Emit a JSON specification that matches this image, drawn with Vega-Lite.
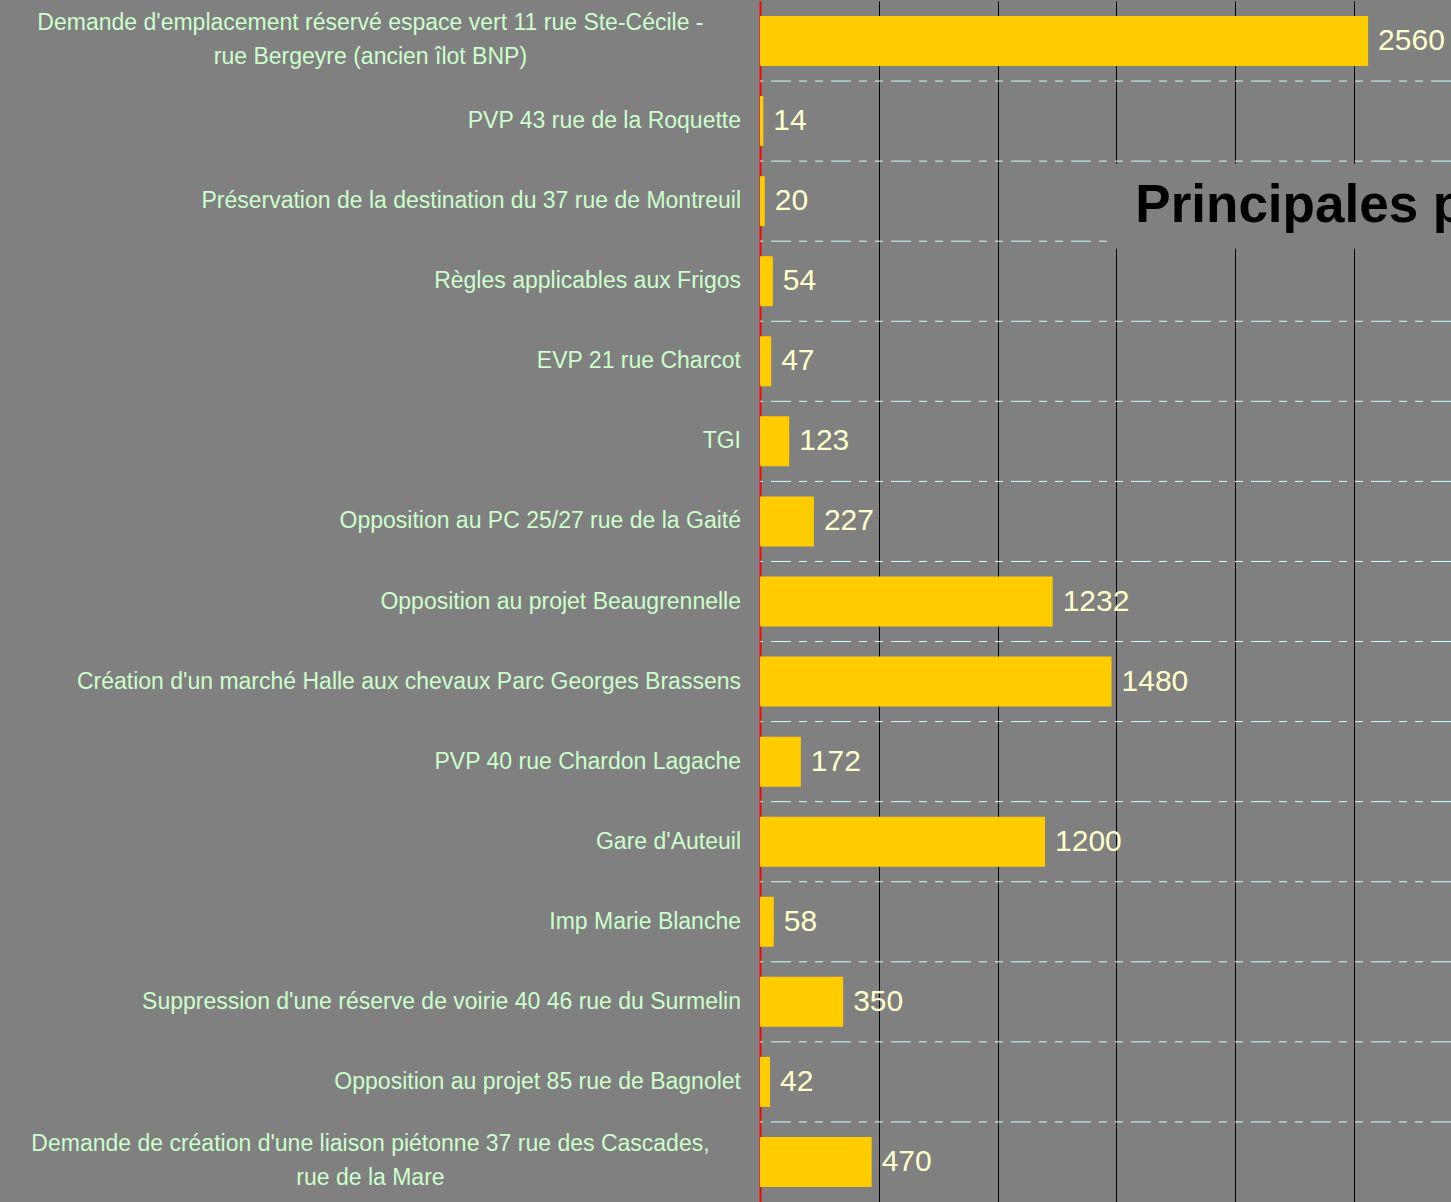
{
  "$schema": "https://vega.github.io/schema/vega-lite/v6.json",
  "autosize": {"type": "none"},
  "padding": {"left": 760, "top": 1, "right": 0, "bottom": 0},
  "width": 691,
  "height": 1201,
  "background": "#808080",
  "config": {"view": {"stroke": null}, "font": "Liberation Sans"},
  "data": {"values": [
      {"label": "Demande d'emplacement réservé espace vert 11 rue Ste-Cécile -|rue Bergeyre (ancien îlot BNP)", "value": 2560},
      {"label": "PVP 43 rue de la Roquette", "value": 14},
      {"label": "Préservation de la destination du 37 rue de Montreuil", "value": 20},
      {"label": "Règles applicables aux Frigos", "value": 54},
      {"label": "EVP 21 rue Charcot", "value": 47},
      {"label": "TGI", "value": 123},
      {"label": "Opposition au PC 25/27 rue de la Gaité", "value": 227},
      {"label": "Opposition au projet Beaugrennelle", "value": 1232},
      {"label": "Création d'un marché Halle aux chevaux Parc Georges Brassens", "value": 1480},
      {"label": "PVP 40 rue Chardon Lagache", "value": 172},
      {"label": "Gare d'Auteuil", "value": 1200},
      {"label": "Imp Marie Blanche", "value": 58},
      {"label": "Suppression d'une réserve de voirie 40 46 rue du Surmelin", "value": 350},
      {"label": "Opposition au projet 85 rue de Bagnolet", "value": 42},
      {"label": "Demande de création d'une liaison piétonne 37 rue des Cascades,|rue de la Mare", "value": 470}
  ]},
  "layer": [
    {
      "mark": {"type": "bar", "color": "#FFCC00", "size": 50},
      "encoding": {
        "y": {
          "field": "label",
          "type": "nominal",
          "sort": null,
          "scale": {"paddingInner": 0, "paddingOuter": 0},
          "axis": {
            "title": null,
            "domainColor": "#FF0000",
            "domainWidth": 2,
            "ticks": false,
            "labels": false,
            "grid": false
          }
        },
        "x": {
          "field": "value",
          "type": "quantitative",
          "scale": {"domain": [0, 2909], "nice": false},
          "axis": {
            "title": null,
            "labels": false,
            "ticks": false,
            "domain": false,
            "grid": true,
            "gridColor": "#000000",
            "gridWidth": 1,
            "values": [500, 1000, 1500, 2000, 2500]
          }
        }
      }
    },
    {
      "transform": [{"filter": "indexof(datum.label, 'emplacement') < 0"}],
      "mark": {"type": "rule", "color": "#CCFFFF", "strokeWidth": 1, "strokeDash": [20, 8, 8, 8, 8, 8]},
      "encoding": {
        "y": {"field": "label", "type": "nominal", "sort": null, "bandPosition": 0}
      }
    },
    {
      "mark": {"type": "text", "align": "left", "baseline": "middle", "dx": 10, "fontSize": 30, "color": "#FFFFCC", "font": "Liberation Sans"},
      "encoding": {
        "y": {"field": "label", "type": "nominal", "sort": null},
        "x": {"field": "value", "type": "quantitative"},
        "text": {"field": "value", "type": "quantitative", "format": "d"}
      }
    },
    {
      "transform": [{"filter": "indexof(datum.label, '|') < 0"}],
      "mark": {"type": "text", "align": "right", "baseline": "middle", "fontSize": 23, "color": "#CCFFCC", "font": "Liberation Sans"},
      "encoding": {
        "y": {"field": "label", "type": "nominal", "sort": null},
        "x": {"datum": -80},
        "text": {"field": "label"}
      }
    },
    {
      "transform": [{"filter": "indexof(datum.label, '|') >= 0"}],
      "mark": {"type": "text", "align": "center", "baseline": "middle", "fontSize": 23, "color": "#CCFFCC", "font": "Liberation Sans", "lineBreak": "|", "lineHeight": 34, "dy": -18},
      "encoding": {
        "y": {"field": "label", "type": "nominal", "sort": null},
        "x": {"datum": -1640},
        "text": {"field": "label"}
      }
    },
    {
      "transform": [{"filter": "indexof(datum.label, 'Montreuil') >= 0"}],
      "mark": {"type": "bar", "color": "#808080", "size": 85, "yOffset": 5},
      "encoding": {
        "y": {"field": "label", "type": "nominal", "sort": null},
        "x": {"datum": 1485},
        "x2": {"datum": 2909}
      }
    },
    {
      "transform": [{"filter": "indexof(datum.label, 'Montreuil') >= 0"}],
      "mark": {"type": "text", "align": "left", "baseline": "middle", "fontSize": 53, "fontWeight": "bold", "color": "#000000", "font": "Liberation Sans", "dy": 5},
      "encoding": {
        "y": {"field": "label", "type": "nominal", "sort": null},
        "x": {"datum": 1580},
        "text": {"value": "Principales pétitions"}
      }
    }
  ]
}
